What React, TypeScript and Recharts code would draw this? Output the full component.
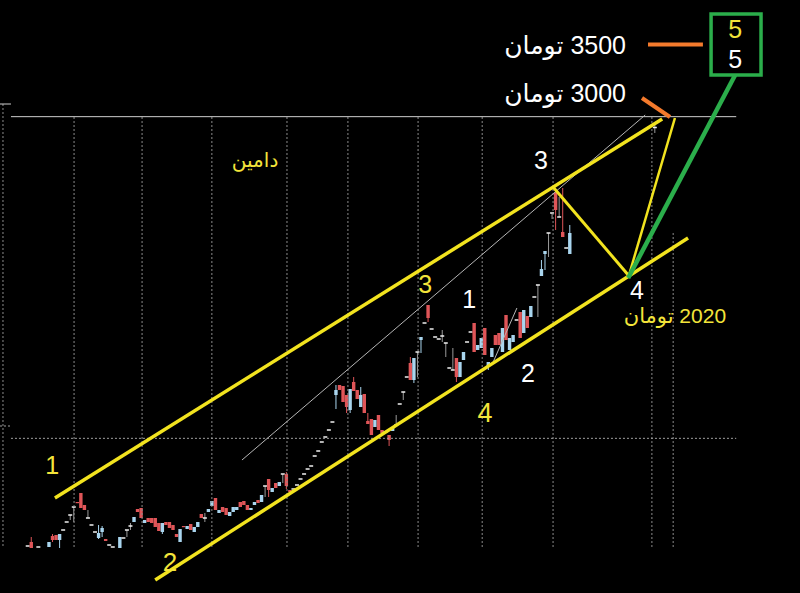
import React from 'react';
import { ComposedChart, Bar, XAxis, YAxis, ReferenceLine, ReferenceArea, ReferenceDot } from 'recharts';

// ---- candle data (price in toman, index = trading day) ----
const openP = [424,448,null,418,null,null,418,484,490,460,
  520,568,610,658,688,742,670,592,550,508,
  472,508,466,430,418,null,412,472,520,544,
  568,646,652,562,592,592,592,562,508,568,
  568,550,496,448,544,526,556,508,538,616,
  592,628,664,712,622,658,652,604,628,640,
  688,694,670,640,670,700,688,784,826,748,
  802,784,856,856,760,766,790,826,856,886,
  904,964,994,1048,1078,1120,1168,1330,1390,1384,
  1330,1240,1408,1360,1258,1336,1174,1186,1138,1210,
  1120,1108,1090,1114,1150,1276,1348,1438,1522,1420,
  1588,1660,1762,1870,1726,1678,1666,1684,1642,1492,
  1480,1552,1438,1540,1648,1708,1762,1600,1612,1732,
  1498,1558,1690,1702,1588,1810,1600,1648,1780,1828,
  1702,1804,1798,1918,1990,2044,2176,2302,2422,2542,
  2398,2308,2212,2176];
const highP = [424,478,null,418,null,null,448,496,490,496,
  520,568,610,658,688,742,670,640,550,508,
  550,544,466,430,418,null,478,472,520,562,
  598,646,652,580,592,592,592,562,562,568,
  568,550,496,526,544,544,556,538,568,616,
  622,646,694,712,640,658,652,628,658,658,
  688,694,670,652,688,700,730,784,826,772,
  802,808,856,868,760,766,790,826,856,886,
  904,964,994,1048,1078,1120,1168,1390,1390,1384,
  1330,1366,1438,1360,1378,1336,1222,1186,1180,1210,
  1120,1108,1090,1138,1210,1276,1348,1438,1558,1552,
  1588,1678,1762,1870,1726,1678,1666,1720,1642,1492,
  1612,1552,1528,1588,1648,1708,1762,1630,1672,1732,
  1528,1612,1690,1702,1732,1810,1672,1690,1780,1828,
  1840,1804,1864,1918,1990,2140,2194,2302,2422,2560,
  2518,2572,2212,2350];
const lowP = [424,412,null,418,null,null,418,448,460,412,
  520,568,580,568,682,652,640,592,550,508,
  466,478,454,430,418,null,412,472,478,520,
  568,628,592,562,568,562,538,514,496,550,
  532,520,478,448,538,526,520,508,538,592,
  568,628,664,640,622,628,610,604,628,640,
  658,670,640,640,670,682,688,718,718,748,
  772,784,802,766,748,766,790,826,856,886,
  904,964,994,1048,1078,1120,1168,1246,1360,1288,
  1222,1222,1354,1306,1258,1222,1156,1090,1138,1120,
  1102,1108,1024,1114,1150,1276,1300,1438,1420,1402,
  1438,1582,1762,1768,1726,1678,1666,1648,1558,1492,
  1480,1408,1438,1540,1648,1708,1588,1600,1612,1570,
  1480,1558,1630,1630,1588,1660,1600,1648,1780,1672,
  1702,1732,1798,1918,1798,2044,2080,2158,2386,2320,
  2398,2278,2212,2176];
const closeP = [424,412,null,418,null,null,448,460,460,496,
  520,568,610,658,682,652,640,592,550,508,
  502,532,454,430,418,null,478,472,520,544,
  598,628,592,580,568,562,538,514,562,550,
  532,520,478,526,538,544,520,538,568,592,
  592,646,694,640,640,628,610,628,658,658,
  658,670,640,652,688,682,730,784,760,772,
  772,808,856,784,748,766,790,826,856,886,
  904,964,994,1048,1078,1120,1168,1360,1360,1288,
  1258,1366,1354,1306,1330,1222,1156,1090,1180,1120,
  1102,1108,1060,1138,1150,1276,1348,1438,1420,1552,
  1588,1678,1762,1792,1726,1678,1666,1684,1642,1492,
  1480,1438,1528,1588,1648,1708,1588,1630,1672,1570,
  1528,1612,1630,1630,1732,1660,1672,1690,1780,1672,
  1840,1732,1864,1918,1990,2086,2194,2302,2422,2440,
  2398,2278,2212,2302];
const lateDay = 177;
const lateOHLC = [2935, 2968, 2902, 2935];

// ---- grid / levels ----
const monthDays = [-7.06, 13.0, 32.2, 51.9, 73.1, 90.3, 110.1, 128.2, 148.2, 176.1, 182.1];
const monthTopPrice = [3076, 2998, 2998, 2998, 2998, 2998, 2998, 2998, 2998, 2998, 2302];
const gridBottomPrice = 412;
const resistancePrice = 3000;
const supportPrice = 1070;
const levelStartDay = -4.8;
const levelEndDay = 199.9;
const axisStartDay = -7.9;
const axisEndDay = 217.9;
const priceMin = 142;
const priceMax = 3700;

// ---- drawn annotations (day, price) ----
const upperChannel = [[7.6, 712], [179.0, 2986]];
const lowerChannel = [[35.9, 220], [186.3, 2272]];
const wave3to4 = [[148.2, 2578], [169.9, 2038]];
const wave4to5 = [[169.4, 2032], [182.6, 2992]];
const greenArrow = [[169.4, 2032], [199.6, 3250]];
const greenBox = [[192.8, 3250], [206.9, 3616]];
const orangeFlat = [[175.0, 3433], [190.5, 3433]];
const orangeSlant = [[173.3, 3112], [181.2, 2998]];
const greyLong = [[60.4, 940], [174.2, 3010]];
const greyShort = [[131.3, 1528], [138.0, 1852]];

const labelTexts = ['تومان \u200E3500', 'تومان \u200E3000', 'دامين', 'تومان \u200E2020', '1', '2', '3', '4', '1', '2', '3', '4', '5', '5'];
const labelDays = [151.6, 151.6, 64.1, 182.6, 6.8, 40.1, 112.1, 129.0, 124.5, 141.1, 144.8, 171.9, 199.6, 199.6];
const labelPrices = [3430, 3142, 2740, 1810, 910, 328, 1996, 1222, 1906, 1462, 2740, 1960, 3526, 3346];

const YELLOW = '#f2e31f';
const TXT_YELLOW = '#f3e43a';
const labelColors = ['#ffffff', '#ffffff', TXT_YELLOW, TXT_YELLOW, TXT_YELLOW, TXT_YELLOW, TXT_YELLOW, TXT_YELLOW, '#ffffff', '#ffffff', '#ffffff', '#ffffff', TXT_YELLOW, '#ffffff'];
const labelSizes = [25, 25, 20, 21, 25, 26, 25, 27, 25, 25, 25, 25, 25, 25];

const candles: any[] = [];
openP.forEach((o, i) => {
  if (o == null) return;
  candles.push({ t: i, o, h: highP[i], l: lowP[i], c: closeP[i] });
});
candles.push({ t: lateDay, o: lateOHLC[0], h: lateOHLC[1], l: lateOHLC[2], c: lateOHLC[3] });

const Candle = (props: any) => {
  const { x, y, width, height, payload } = props;
  if (!payload || x == null || y == null) return null;
  const { o, h, l, c } = payload;
  const cx = x + width / 2;
  const range = h - l;
  const py = (v: number) => (range > 0 ? y + ((h - v) / range) * height : y);
  const top = py(Math.max(o, c));
  const bot = py(Math.min(o, c));
  const flat = o === c;
  const up = c > o;
  const color = up ? '#a9d5ee' : '#df5558';
  return (
    <g>
      {range > 0 && (
        <line x1={cx} x2={cx} y1={y} y2={y + height} stroke={flat ? '#9a9a9a' : color} strokeWidth={1} />
      )}
      {flat ? (
        <line x1={cx - 2} x2={cx + 2} y1={top} y2={top} stroke="#f0f0f0" strokeWidth={1.5} />
      ) : (
        <rect x={cx - 1.7} y={top} width={3.4} height={Math.max(1.2, bot - top)} fill={color} />
      )}
    </g>
  );
};

const seg = (p: number[][]) => [{ x: p[0][0], y: p[0][1] }, { x: p[1][0], y: p[1][1] }];

const makeLabel = (text: string, color: string, size: number) => (props: any) => {
  const vb = props.viewBox || {};
  const x = vb.x + (vb.width || 0) / 2;
  const y = vb.y + (vb.height || 0) / 2;
  return (
    <text
      x={x}
      y={y}
      textAnchor="middle"
      dominantBaseline="central"
      fill={color}
      fontSize={size}
      fontFamily="'Liberation Sans', Arial, 'DejaVu Sans', sans-serif"
    >
      {text}
    </text>
  );
};

export default function App() {
  return (
    <div style={{ position: 'fixed', left: 0, top: 0, width: 800, height: 593, background: '#000' }}>
      <ComposedChart width={800} height={593} data={candles} margin={{ top: 0, right: 0, bottom: 0, left: 0 }}>
        <XAxis type="number" dataKey="t" domain={[axisStartDay, axisEndDay]} allowDataOverflow hide />
        <YAxis type="number" domain={[priceMin, priceMax]} allowDataOverflow hide />

        {monthDays.map((d, i) => (
          <ReferenceLine
            key={'g' + i}
            segment={[{ x: d, y: monthTopPrice[i] }, { x: d, y: gridBottomPrice }]}
            stroke="#8a8a8a"
            strokeDasharray="2 2"
            strokeWidth={1}
            ifOverflow="visible"
          />
        ))}
        <ReferenceLine segment={[{ x: levelStartDay, y: resistancePrice }, { x: levelEndDay, y: resistancePrice }]} stroke="#cfcfcf" strokeWidth={1} ifOverflow="visible" />
        <ReferenceLine segment={[{ x: levelStartDay, y: supportPrice }, { x: levelEndDay, y: supportPrice }]} stroke="#a0a0a0" strokeDasharray="2 2" strokeWidth={1} ifOverflow="visible" />
        <ReferenceLine segment={[{ x: axisStartDay, y: 3076 }, { x: levelStartDay, y: 3076 }]} stroke="#cfcfcf" strokeWidth={1} ifOverflow="visible" />
        <ReferenceLine segment={[{ x: axisStartDay, y: 1144 }, { x: levelStartDay, y: 1144 }]} stroke="#a0a0a0" strokeDasharray="2 2" strokeWidth={1} ifOverflow="visible" />

        <ReferenceLine segment={seg(greyLong)} stroke="#b5b5b5" strokeWidth={1} ifOverflow="visible" />
        <ReferenceLine segment={seg(greyShort)} stroke="#b5b5b5" strokeWidth={1} ifOverflow="visible" />

        <Bar dataKey={(d: any) => [d.l, d.h]} barSize={3} shape={<Candle />} isAnimationActive={false} />

        <ReferenceLine segment={seg(upperChannel)} stroke={YELLOW} strokeWidth={3.5} ifOverflow="visible" />
        <ReferenceLine segment={seg(lowerChannel)} stroke={YELLOW} strokeWidth={3.5} ifOverflow="visible" />
        <ReferenceLine segment={seg(wave3to4)} stroke={YELLOW} strokeWidth={3} ifOverflow="visible" />
        <ReferenceLine segment={seg(wave4to5)} stroke={YELLOW} strokeWidth={2.5} ifOverflow="visible" />
        <ReferenceLine segment={seg(greenArrow)} stroke="#2bae4b" strokeWidth={4.5} ifOverflow="visible" />
        <ReferenceLine segment={seg(orangeFlat)} stroke="#f47a2c" strokeWidth={4} ifOverflow="visible" />
        <ReferenceLine segment={seg(orangeSlant)} stroke="#f47a2c" strokeWidth={4} ifOverflow="visible" />
        <ReferenceArea
          x1={greenBox[0][0]}
          x2={greenBox[1][0]}
          y1={greenBox[0][1]}
          y2={greenBox[1][1]}
          fill="none"
          fillOpacity={0}
          stroke="#2bae4b"
          strokeWidth={3.5}
          ifOverflow="visible"
        />

        {labelTexts.map((txt, i) => (
          <ReferenceDot
            key={'l' + i}
            x={labelDays[i]}
            y={labelPrices[i]}
            r={0}
            fill="none"
            stroke="none"
            ifOverflow="visible"
            label={makeLabel(txt, labelColors[i], labelSizes[i])}
          />
        ))}
      </ComposedChart>
    </div>
  );
}
